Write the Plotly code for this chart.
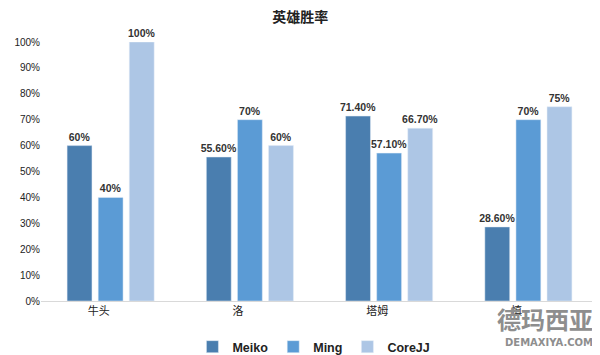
import plotly.graph_objects as go

categories = ["牛头", "洛", "塔姆", "慎"]
meiko = [0.60, 0.556, 0.714, 0.286]
ming = [0.40, 0.70, 0.571, 0.70]
corejj = [1.00, 0.60, 0.667, 0.75]
meiko_txt = ["60%", "55.60%", "71.40%", "28.60%"]
ming_txt = ["40%", "70%", "57.10%", "70%"]
corejj_txt = ["100%", "60%", "66.70%", "75%"]
yticks = [i / 10 for i in range(11)]
ytick_labels = [f"{i*10}%" for i in range(11)]

font_fam = "Liberation Sans, Noto Sans CJK SC, sans-serif"
fig = go.Figure()
for name, vals, txt, col in [
    ("Meiko", meiko, meiko_txt, "#4A7EAF"),
    ("Ming", ming, ming_txt, "#5B9BD5"),
    ("CoreJJ", corejj, corejj_txt, "#ADC6E5"),
]:
    fig.add_trace(go.Bar(
        x=categories, y=vals, name=f"<b>{name}</b>", marker_color=col,
        text=[f"<b>{t}</b>" for t in txt], textposition="outside",
        textfont=dict(size=10.5, color="#333333", family=font_fam),
        constraintext="none", cliponaxis=False,
    ))

fig.update_layout(
    width=600, height=355,
    margin=dict(l=33, r=10, t=34, b=62, autoexpand=False),
    paper_bgcolor="white", plot_bgcolor="white",
    barmode="group", bargap=0.33, bargroupgap=0.2,
    title=dict(text="<b>英雄胜率</b>", x=0.487, xanchor="center", y=0.974, yanchor="middle",
               font=dict(size=14, color="#222222", family="Noto Sans CJK SC, sans-serif")),
    legend=dict(orientation="h", x=0.49, xanchor="center", y=0.045, yanchor="middle",
                yref="container",
                font=dict(size=12.5, color="#222222", family=font_fam),
                itemwidth=30, tracegroupgap=0),
    font=dict(family=font_fam),
)
fig.update_yaxes(range=[0, 1], tickvals=yticks, ticktext=ytick_labels, showgrid=False,
                 zeroline=False, tickfont=dict(size=10, color="#222222"), ticks="", showline=False)
fig.update_xaxes(showline=True, linecolor="#D9D9D9", linewidth=1, ticks="",
                 tickfont=dict(size=11, color="#222222", family="Noto Sans CJK SC, sans-serif"),
                 ticklabelshift=-12)

fig.add_annotation(text="<b>德玛西亚</b>", x=1.0, y=-0.066, xref="paper", yref="paper",
                   xanchor="right", yanchor="middle", showarrow=False,
                   font=dict(size=24, color="#8E8E8E", family="Noto Sans CJK SC"), xshift=-3)
fig.add_annotation(text="<b>DEMAXIYA.COM</b>", x=1.0, y=-0.162, xref="paper", yref="paper",
                   xanchor="right", yanchor="middle", showarrow=False,
                   font=dict(size=10, color="#8E8E8E", family="DejaVu Sans"), xshift=-3)

fig.write_html("out.html")
